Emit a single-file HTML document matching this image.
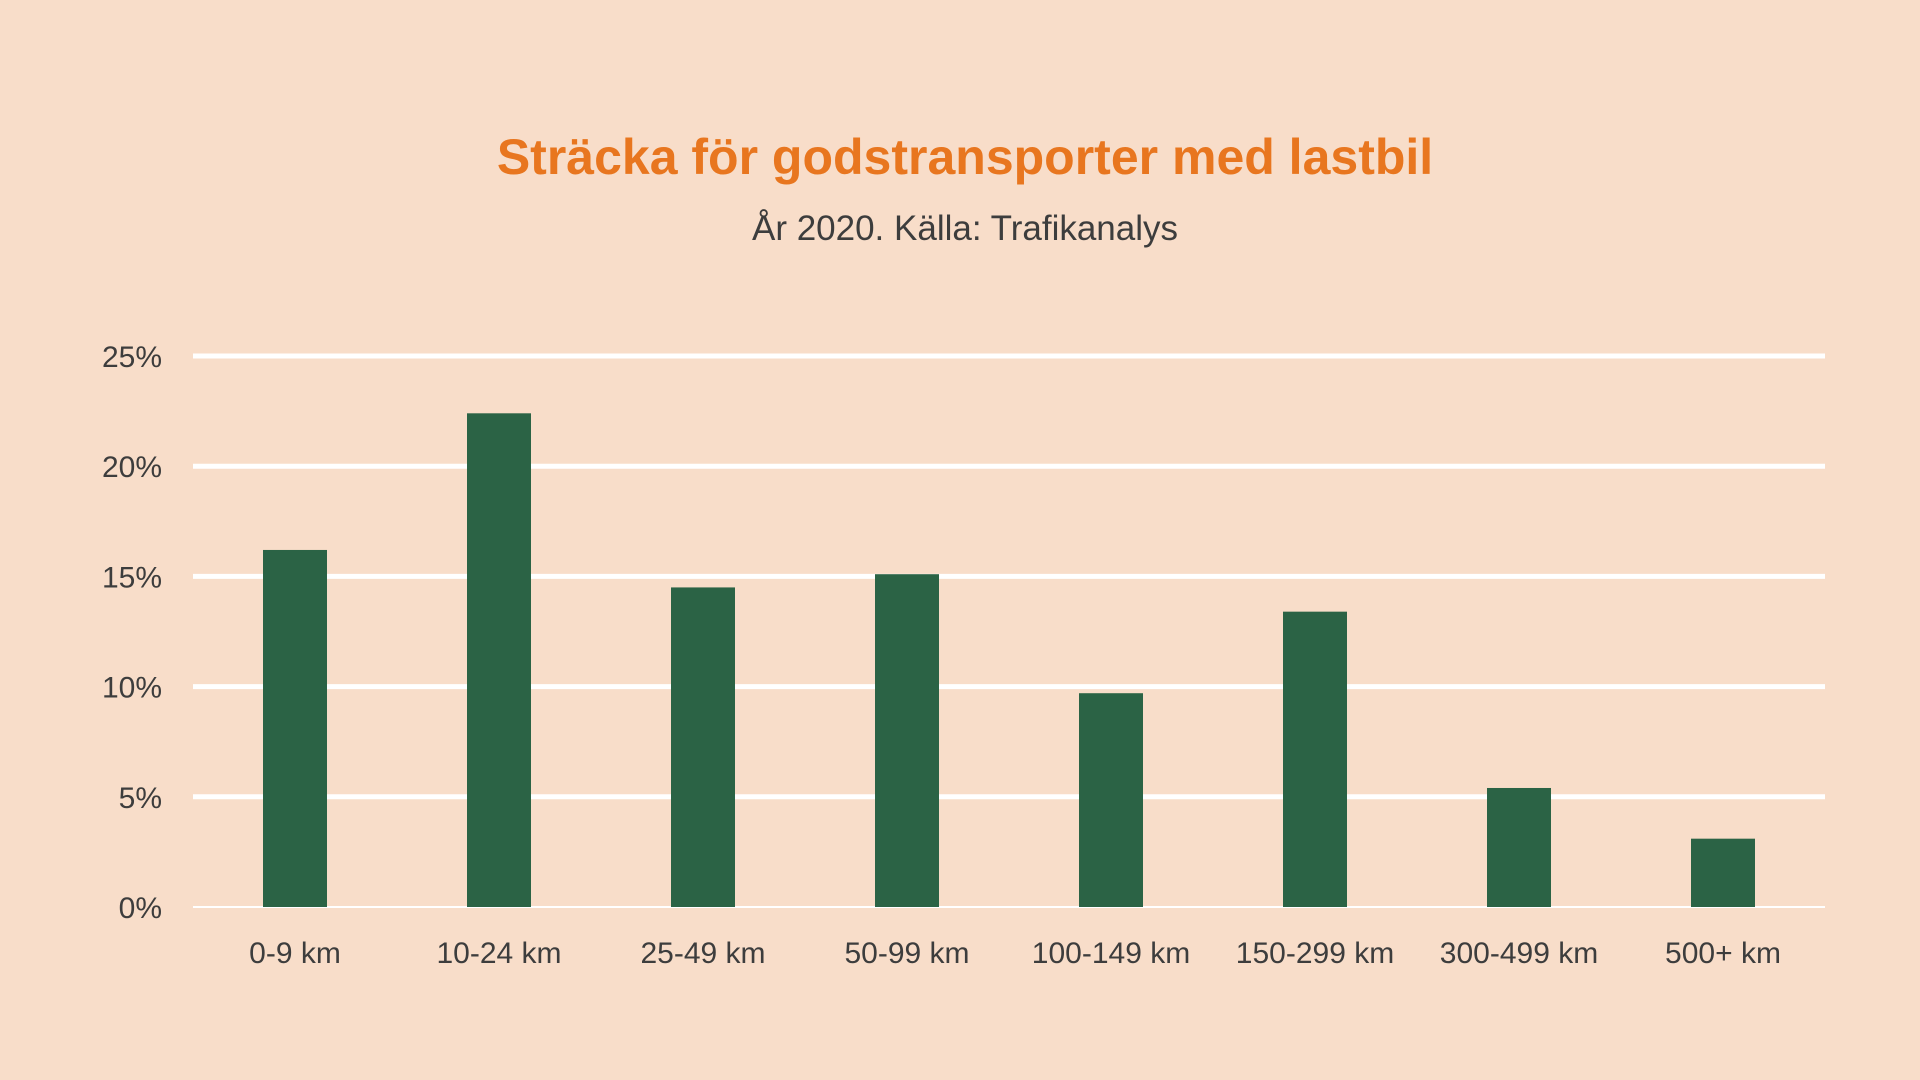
<!DOCTYPE html>
<html><head><meta charset="utf-8"><style>
body{margin:0;width:1920px;height:1080px;background:#f8ddc9;overflow:hidden}
svg{display:block}
text{font-family:"Liberation Sans",sans-serif}
</style></head><body>
<svg width="1920" height="1080">
<rect width="1920" height="1080" fill="#f8ddc9"/>
<text x="965" y="174" text-anchor="middle" font-size="50" font-weight="bold" fill="#e8761f">Sträcka för godstransporter med lastbil</text>
<text x="965" y="240" text-anchor="middle" font-size="35" fill="#3d3d3d">År 2020. Källa: Trafikanalys</text>
<g id="grid"></g><g id="bars"></g><g id="labels"></g>
</svg>
<script>
const categories=["0-9 km","10-24 km","25-49 km","50-99 km","100-149 km","150-299 km","300-499 km","500+ km"];
const values=[16.2,22.4,14.5,15.1,9.7,13.4,5.4,3.1];
const ticks=[0,5,10,15,20,25];
const tickLabels=["0%","5%","10%","15%","20%","25%"];
const NS="http://www.w3.org/2000/svg";
const x0=193,x1=1825,y0=907,yTop=356,maxV=25;
const y=v=>y0-(y0-yTop)*v/maxV;
const band=(x1-x0)/categories.length;
const x=i=>x0+band*(i+0.5);
function mk(t,a,p){const e=document.createElementNS(NS,t);for(const k in a)e.setAttribute(k,a[k]);p.appendChild(e);return e;}
const g=document.getElementById('grid'),b=document.getElementById('bars'),l=document.getElementById('labels');
ticks.forEach((t,i)=>{
 const ln=mk('line',{x1:x0,x2:x1,y1:y(t),y2:y(t),stroke:'#ffffff','stroke-width':t===0?2:5},g);
 
 
 const tx=mk('text',{x:162,y:y(t)+11,'text-anchor':'end','font-size':30,fill:'#3d3d3d'},l);
 tx.textContent=tickLabels[i];
 
 
});
categories.forEach((c,i)=>{
 const r=mk('rect',{x:x(i)-32,width:64,y:y(values[i]),height:y0-y(values[i]),fill:'#2b6345'},b);
 
 
 const tx=mk('text',{x:x(i),y:963,'text-anchor':'middle','font-size':30,fill:'#3d3d3d'},l);
 tx.textContent=c;
 
 
});
</script>
</body></html>
